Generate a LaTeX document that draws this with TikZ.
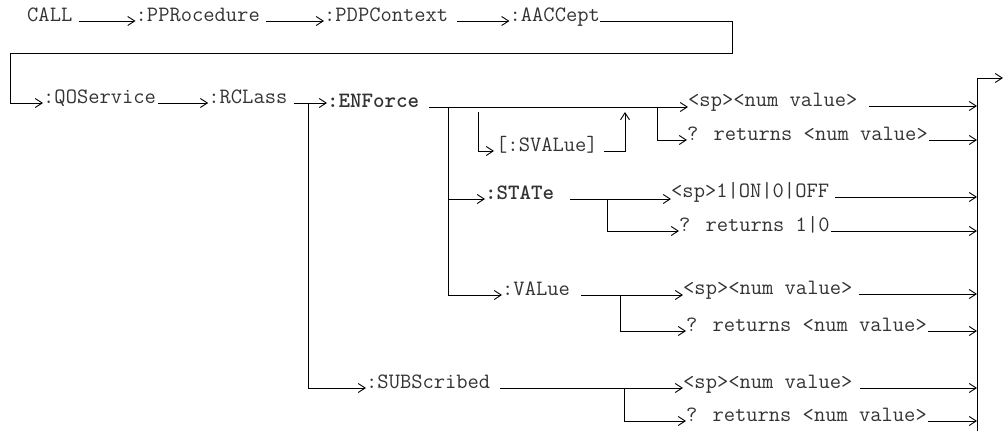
\documentclass[tikz,border=0pt]{standalone}
\usepackage{fontspec}
\usetikzlibrary{arrows.meta,positioning}
\tikzset{
  cmd/.style={
    font=\ttfamily\fontsize{21.9}{24}\selectfont, text=black!80,
    inner sep=0pt, text height=0pt, text depth=0pt, anchor=west
  },
  bcmd/.style={cmd, font=\ttfamily\bfseries\fontsize{21.9}{24}\selectfont},
  ln/.style={line width=0.9pt},
  arr/.style={ln, -{Straight Barb[length=7pt,width=9pt]}},
  gapped/.style={shorten <=#1},
  gapped/.default=10pt
}

\begin{document}
\begin{tikzpicture}[x=1pt, y=-1pt]
  \useasboundingbox (0,0) rectangle (1004,431);

  % --- first line ------------------------------------------------------
  \node[cmd] (call) at (27,21) {CALL};
  \node[cmd, right=63pt of call] (ppr) {:PPRocedure};
  \node[cmd, right=64pt of ppr] (pdp) {:PDPContext};
  \node[cmd, right=61pt of pdp] (acc) {:AACCept};

  \draw[arr, gapped=6pt] (call) -- (ppr);
  \draw[arr, gapped=6pt] (ppr) -- (pdp);
  \draw[arr, gapped=9pt] (pdp) -- (acc);

  % --- second line -----------------------------------------------------
  \node[cmd] (qos) at (43,103) {:QOService};
  \node[cmd, right=52pt of qos] (rcl) {:RCLass};
  \node[bcmd] (enf) at (327,107) {:ENForce};
  \node[cmd] (svl) at (496,151) {[:SVALue]};
  \node[bcmd] (st) at (485,199) {:STATe};
  \node[cmd] (val) at (502,295) {:VALue};
  \node[cmd] (sub) at (366,388) {:SUBScribed};

  % --- parameters ------------------------------------------------------
  \node[cmd] (enfA) at (688,106) {<sp><num value>};
  \node[cmd] (enfB) at (687,140) {? returns <num value>};
  \node[cmd] (stA) at (671,197) {<sp>1|ON|0|OFF};
  \node[cmd] (stB) at (679,231) {? returns 1|0};
  \node[cmd] (valA) at (683,294) {<sp><num value>};
  \node[cmd] (valB) at (686,331) {? returns <num value>};
  \node[cmd] (subA) at (683,388) {<sp><num value>};
  \node[cmd] (subB) at (686,421) {? returns <num value>};

  % junctions and bus
  \coordinate (wrapR) at (732,53);
  \coordinate (wrapL) at (10,53);
  \coordinate (rj) at (308,103);
  \coordinate (ej) at (448,107);
  \coordinate (sj) at (478,112);
  \coordinate (uj) at (625,112);
  \coordinate (aj) at (657,107);
  \coordinate (tj) at (607,199);
  \coordinate (vj) at (620,295);
  \coordinate (bj) at (624,388);
  \coordinate (bus) at (977,78);
  \coordinate (busBot) at (977,431);
  \coordinate (busOut) at (1003,78);

  \draw[arr] (acc.east) -| (wrapR) -- (wrapL) |- (qos.west);
  \draw[arr, gapped=2pt] (qos) -- (rcl);
  \draw[arr, gapped=6pt] (rcl.east) -- (rcl.east -| enf.west);
  \draw[arr] (rj) |- (sub.west);

  \draw[arr, gapped=10pt] (enf.east) -- (enf.east -| enfA.west);
  \draw[arr] (ej) |- (val.west);
  \draw[arr] (ej |- st.west) -- (st.west);
  \draw[arr, shorten >=2pt] (sj) |- (svl.west);
  \draw[arr, gapped=6pt] (svl.east) -| (uj);
  \draw[arr] (aj) |- (enfB.west);

  \draw[arr, gapped=16pt] (st.east) -- (st.east -| stA.west);
  \draw[arr] (tj) |- (stB.west);
  \draw[arr, gapped=11pt] (val.east) -- (val.east -| valA.west);
  \draw[arr] (vj) |- (valB.west);
  \draw[arr, gapped=10pt] (sub.east) -- (sub.east -| subA.west);
  \draw[arr] (bj) |- (subB.west);

  % --- into the bus ----------------------------------------------------
  \draw[arr, gapped=11pt] (enfA.east) -- (enfA.east -| bus);
  \draw[arr, gapped=1pt] (enfB.east) -- (enfB.east -| bus);
  \draw[arr, gapped=6pt] (stA.east) -- (stA.east -| bus);
  \draw[arr, gapped=1pt] (stB.east) -- (stB.east -| bus);
  \draw[arr, gapped=6pt] (valA.east) -- (valA.east -| bus);
  \draw[arr, gapped=1pt] (valB.east) -- (valB.east -| bus);
  \draw[arr, gapped=7pt] (subA.east) -- (subA.east -| bus);
  \draw[arr, gapped=1pt] (subB.east) -- (subB.east -| bus);
  \draw[arr] (busBot) -- (bus) -- (busOut);
\end{tikzpicture}
\end{document}
